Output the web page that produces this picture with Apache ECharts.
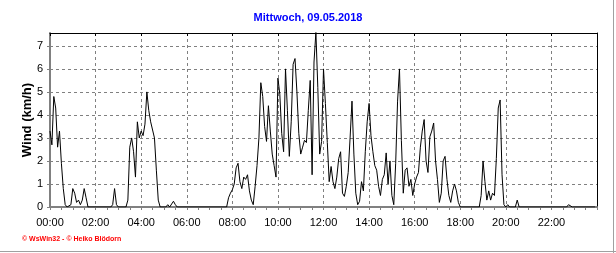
<!DOCTYPE html>
<html>
<head>
<meta charset="utf-8">
<script src="https://cdn.jsdelivr.net/npm/echarts@6/dist/echarts.min.js"></script>
<style>
html,body{margin:0;padding:0;background:#fff;}
#chart{width:616px;height:253px;}
</style>
</head>
<body>
<div id="chart"></div>
<script>
// ---- data ----
const chartTitle = "Mittwoch, 09.05.2018";
const yAxisName = "Wind (km/h)";
const credits = "\u00A9 WsWin32 - \u00A9 Heiko Blödorn";
const xTickLabels = ["00:00","02:00","04:00","06:00","08:00","10:00","12:00","14:00","16:00","18:00","20:00","22:00"];
const yTickLabels = ["0","1","2","3","4","5","6","7"];

const times = [
"00:00","00:05","00:10","00:15","00:20","00:25","00:30","00:35","00:40","00:45","00:50","00:55",
"01:00","01:05","01:10","01:15","01:20","01:25","01:30","01:35","01:40",
"02:40","02:45","02:50","02:55","03:00",
"03:20","03:25","03:30","03:35","03:40","03:45","03:50","03:55",
"04:00","04:05","04:10","04:15","04:20","04:25","04:30","04:35","04:40","04:45","04:50",
"05:05","05:10","05:15","05:20","05:25","05:30","05:35",
"07:45","07:50","07:55",
"08:00","08:05","08:10","08:15","08:20","08:25","08:30","08:35","08:40","08:45","08:50","08:55",
"09:00","09:05","09:10","09:15","09:20","09:25","09:30","09:35","09:40","09:45","09:50","09:55",
"10:00","10:05","10:10","10:15","10:20","10:25","10:30","10:35","10:40","10:45","10:50","10:55",
"11:00","11:05","11:10","11:15","11:20","11:25","11:30","11:35","11:40","11:45","11:50","11:55",
"12:00","12:05","12:10","12:15","12:20","12:25","12:30","12:35","12:40","12:45","12:50","12:55",
"13:00","13:05","13:10","13:15","13:20","13:25","13:30","13:35","13:40","13:45","13:50","13:55",
"14:00","14:05","14:10","14:15","14:20","14:25","14:30","14:35","14:40","14:45","14:50","14:55",
"15:00","15:05","15:10","15:15","15:20","15:25","15:30","15:35","15:40","15:45","15:50","15:55",
"16:00","16:05","16:10","16:15","16:20","16:25","16:30","16:35","16:40","16:45","16:50","16:55",
"17:00","17:05","17:10","17:15","17:20","17:25","17:30","17:35","17:40","17:45","17:50","17:55",
"18:00","18:50","18:55",
"19:00","19:05","19:10","19:15","19:20","19:25","19:30","19:35","19:40","19:45","19:50","19:55",
"20:00","20:05","20:10","20:25","20:30","20:35",
"22:40","22:45","22:50","22:55","23:55"
];
const windSpeed = [
3.3,2.7,4.8,4.3,2.6,3.3,1.9,0.8,0.1,0,0,0.1,
0.8,0.6,0.2,0.3,0.1,0.3,0.8,0.4,0,
0,0.1,0.8,0.1,0,
0,0.3,2.6,3.0,2.4,1.3,3.7,3.0,
3.3,3.1,3.6,5.0,4.2,3.7,3.7,3.0,1.6,0.3,0,
0,0.1,0,0.05,0.25,0.1,0,
0,0.4,0.6,
0.75,1.0,1.7,1.9,1.1,0.8,1.3,1.2,1.4,0.7,0.3,0.1,
0.9,1.8,3.0,5.4,4.8,3.5,2.85,4.4,3.3,2.3,1.8,1.3,
5.6,4.9,3.2,2.4,6.0,4.2,2.2,3.7,6.2,6.45,5.0,3.2,
2.3,2.6,2.9,2.8,4.2,5.5,1.4,6.3,7.6,5.2,2.3,2.85,
6.0,4.5,2.8,1.1,1.76,1.1,0.8,1.3,2.1,2.4,0.6,0.46,
0.9,1.5,3.0,4.6,2.3,0.6,0.1,0.25,1.1,0.7,2.4,3.7,
4.5,3.1,2.4,1.8,1.6,0.9,0.5,1.2,1.4,2.35,1.0,2.0,
0.5,0.1,1.9,4.6,6.0,2.9,0.6,1.6,1.7,0.9,1.2,0.5,
1.0,1.3,1.5,2.6,3.3,3.8,2.0,1.5,3.05,3.3,3.65,2.0,
1.2,0.2,0.6,2.0,2.2,1.2,0.5,0.2,0.7,1.0,0.7,0.2,
0,0,0.5,
2.0,1.1,0.3,0.7,0.3,0.6,0.5,2.1,4.3,4.65,1.4,0.1,
0,0.1,0,0,0.3,0,
0,0.1,0.1,0,0
];

// ---- build ----
function toMin(t){ const p=t.split(':'); return (+p[0])*60 + (+p[1]); }
function fmtMin(v){ const h=Math.floor(v/60), m=v%60; return (h<10?'0':'')+h+':'+(m<10?'0':'')+m; }
const seriesData = times.map((t,i)=>[toMin(t), windSpeed[i]]);
const xLabelSet = new Set(xTickLabels);
const yLabelSet = new Set(yTickLabels);

const FONT = '"Liberation Sans", Arial, sans-serif';
const grid = {left:50, top:33, width:547, height:174};
const chart = echarts.init(document.getElementById('chart'), null, {renderer:'canvas'});
chart.setOption({
  animation:false,
  backgroundColor:'#ffffff',
  title:{
    text: chartTitle, left:'center', top:7,
    textStyle:{color:'#0000ff', fontSize:11, fontWeight:'bold', fontFamily:FONT}
  },
  grid: grid,
  xAxis:[{
    type:'value', min:0, max:1440, interval:120, position:'bottom',
    axisLine:{show:true, onZero:false, lineStyle:{color:'#808080', width:2}},
    axisTick:{show:true, length:3, lineStyle:{color:'#808080'}},
    minorTick:{show:true, splitNumber:4, length:3, lineStyle:{color:'#808080'}},
    axisLabel:{
      color:'#000', fontSize:11, fontFamily:FONT, margin:10,
      formatter:v=>{ const s=fmtMin(v); return xLabelSet.has(s)?s:''; }
    },
    splitLine:{show:true, lineStyle:{color:'#808080', type:[3,3], width:1}}
  },{
    type:'value', min:0, max:1440, interval:120, position:'top',
    axisLine:{show:true, onZero:false, lineStyle:{color:'#000', width:1}},
    axisTick:{show:true, inside:true, length:3, lineStyle:{color:'#000'}},
    axisLabel:{show:false}, splitLine:{show:false}
  }],
  yAxis:[{
    type:'value', min:0, max:7.56, interval:1, position:'left',
    name: yAxisName, nameLocation:'middle', nameGap:16, nameRotate:90,
    nameMoveOverlap:false,
    nameTextStyle:{color:'#000', fontSize:13, fontWeight:'bold', fontFamily:FONT},
    axisLine:{show:true, onZero:false, lineStyle:{color:'#808080', width:2}},
    axisTick:{show:true, length:3, lineStyle:{color:'#808080'}},
    axisLabel:{
      color:'#000', fontSize:11, fontFamily:FONT, margin:7, showMaxLabel:false,
      formatter:v=>{ const s=String(v); return yLabelSet.has(s)?s:''; }
    },
    splitLine:{show:true, lineStyle:{color:'#808080', type:[3,3], width:1}}
  },{
    type:'value', min:0, max:7.56, interval:1, position:'right',
    axisLine:{show:true, onZero:false, lineStyle:{color:'#000', width:1}},
    axisTick:{show:false}, axisLabel:{show:false}, splitLine:{show:false}
  }],
  series:[{
    type:'line', data: seriesData, xAxisIndex:0, yAxisIndex:0,
    showSymbol:false, symbol:'none', clip:true,
    lineStyle:{color:'#000', width:1}
  }],
  graphic:[
    {type:'text', left:22, top:236, style:{text:credits, fill:'#ff0000', font:'bold 7px '+FONT}},
    {type:'line', shape:{x1:613.5, y1:0, x2:613.5, y2:253}, style:{stroke:'#a0a0a0', lineWidth:1}},
    {type:'line', shape:{x1:0, y1:251.5, x2:616, y2:251.5}, style:{stroke:'#a0a0a0', lineWidth:1}}
  ]
});
</script>
</body>
</html>
